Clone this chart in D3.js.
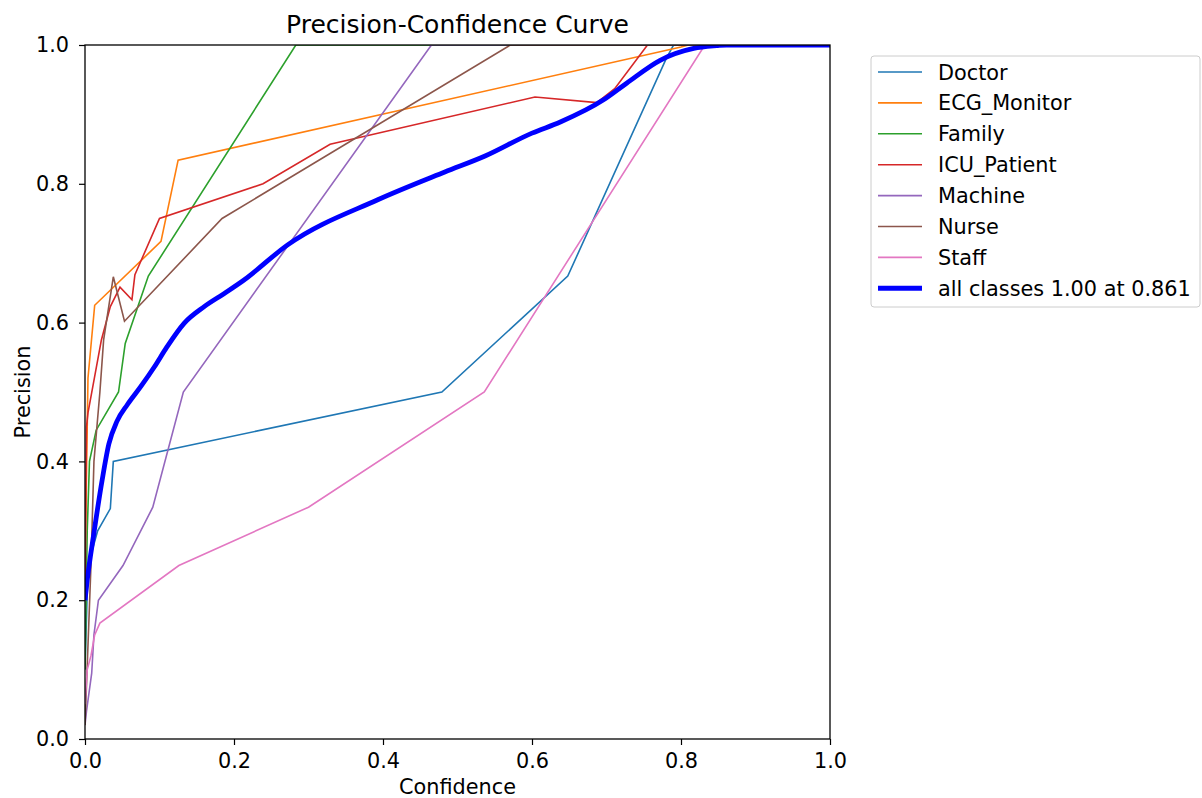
<!DOCTYPE html>
<html>
<head>
<meta charset="utf-8">
<script src="https://cdn.jsdelivr.net/npm/d3@7"></script>
<style>
  body { margin: 0; background: #fff; }
  text { font-family: "DejaVu Sans", sans-serif; fill: #000; }
</style>
</head>
<body>
<svg id="chart" width="1202" height="798"></svg>
<script>
// class names and colours (matplotlib tab10)
var classNames = ["Doctor", "ECG_Monitor", "Family", "ICU_Patient", "Machine", "Nurse", "Staff"];
var classColors = ["#1f77b4", "#ff7f0e", "#2ca02c", "#d62728", "#9467bd", "#8c564b", "#e377c2"];

// [confidence, precision] pairs
var doctorPts = [[0, 0.10], [0.004, 0.25], [0.017, 0.30], [0.034, 0.332], [0.038, 0.40], [0.479, 0.50], [0.648, 0.667], [0.78, 0.98], [0.79, 1.0], [1, 1.0]];
var ecgPts = [[0, 0.25], [0.003, 0.45], [0.004, 0.52], [0.013, 0.625], [0.102, 0.717], [0.125, 0.834], [0.80, 0.997], [0.81, 1.0], [1, 1.0]];
var familyPts = [[0, 0.10], [0.003, 0.30], [0.006, 0.40], [0.015, 0.445], [0.045, 0.50], [0.054, 0.57], [0.085, 0.667], [0.283, 1.0], [1, 1.0]];
var icuPts = [[0, 0.20], [0.002, 0.45], [0.004, 0.47], [0.022, 0.575], [0.034, 0.623], [0.047, 0.651], [0.063, 0.633], [0.067, 0.669], [0.10, 0.75], [0.239, 0.80], [0.329, 0.857], [0.604, 0.925], [0.687, 0.917], [0.711, 0.937], [0.755, 1.0], [1, 1.0]];
var machinePts = [[0, 0.02], [0.002, 0.04], [0.009, 0.095], [0.012, 0.15], [0.018, 0.20], [0.051, 0.25], [0.091, 0.334], [0.132, 0.50], [0.465, 1.0], [1, 1.0]];
var nursePts = [[0, 0.02], [0.008, 0.25], [0.012, 0.40], [0.016, 0.45], [0.020, 0.50], [0.025, 0.575], [0.038, 0.666], [0.053, 0.602], [0.184, 0.75], [0.571, 1.0], [1, 1.0]];
var staffPts = [[0, 0.05], [0.003, 0.10], [0.008, 0.12], [0.013, 0.15], [0.02, 0.167], [0.126, 0.25], [0.30, 0.334], [0.536, 0.50], [0.832, 1.0], [1, 1.0]];
var allPts = [[0, 0.20], [0.003, 0.229], [0.012, 0.297], [0.023, 0.373], [0.032, 0.425], [0.043, 0.458], [0.057, 0.482], [0.075, 0.508], [0.093, 0.536], [0.110, 0.565], [0.133, 0.599], [0.16, 0.623], [0.187, 0.642], [0.213, 0.661], [0.272, 0.712], [0.393, 0.777], [0.483, 0.817], [0.537, 0.84], [0.60, 0.873], [0.638, 0.889], [0.696, 0.921], [0.727, 0.945], [0.772, 0.978], [0.817, 0.995], [0.848, 0.999], [0.861, 1.0], [1, 1.0]];
var allLabel = "all classes 1.00 at 0.861";

var classPts = [doctorPts, ecgPts, familyPts, icuPts, machinePts, nursePts, staffPts];
var tickVals = [0, 0.2, 0.4, 0.6, 0.8, 1.0];

var svg = d3.select("#chart");

// plot area
var plotLeft = 85, plotRight = 830, plotTop = 45, plotBottom = 739;

var xScale = d3.scaleLinear().domain([0, 1]).range([plotLeft, plotRight]);
var yScale = d3.scaleLinear().domain([0, 1]).range([plotBottom, plotTop]);

svg.append("defs").append("clipPath").attr("id", "plotClip")
  .append("rect")
  .attr("x", plotLeft).attr("y", plotTop)
  .attr("width", plotRight - plotLeft).attr("height", plotBottom - plotTop);

var line = d3.line()
  .x(function(d) { return xScale(d[0]); })
  .y(function(d) { return yScale(d[1]); });

var plot = svg.append("g").attr("clip-path", "url(#plotClip)");

classPts.forEach(function(pts, i) {
  plot.append("path")
    .datum(pts)
    .attr("d", line)
    .attr("fill", "none")
    .attr("stroke", classColors[i])
    .attr("stroke-width", 1.6);
});

plot.append("path")
  .datum(allPts)
  .attr("d", line.curve(d3.curveMonotoneX))
  .attr("fill", "none")
  .attr("stroke", "#0000ff")
  .attr("stroke-width", 4.8)
  .attr("stroke-linejoin", "round");

// axes
var fmt = d3.format(".1f");
var xAxis = d3.axisBottom(xScale).tickValues(tickVals).tickFormat(fmt).tickSize(6).tickPadding(8);
var yAxis = d3.axisLeft(yScale).tickValues(tickVals).tickFormat(fmt).tickSize(6).tickPadding(10);

var gx = svg.append("g").attr("transform", "translate(0," + plotBottom + ")").call(xAxis);
var gy = svg.append("g").attr("transform", "translate(" + plotLeft + ",0)").call(yAxis);
[gx, gy].forEach(function(g) {
  g.select(".domain").remove();
  g.selectAll(".tick line").attr("stroke", "#000").attr("stroke-width", 1.2);
  g.selectAll(".tick text").style("font-family", "DejaVu Sans").style("font-size", "20.8px").attr("fill", "#000");
});

// frame
svg.append("rect")
  .attr("x", plotLeft).attr("y", plotTop)
  .attr("width", plotRight - plotLeft).attr("height", plotBottom - plotTop)
  .attr("fill", "none").attr("stroke", "#000").attr("stroke-width", 1.3);

// title and labels
svg.append("text")
  .attr("x", (plotLeft + plotRight) / 2).attr("y", 33)
  .attr("text-anchor", "middle")
  .style("font-size", "25px")
  .text("Precision-Confidence Curve");

svg.append("text")
  .attr("x", (plotLeft + plotRight) / 2).attr("y", 794)
  .attr("text-anchor", "middle")
  .style("font-size", "20.8px")
  .text("Confidence");

svg.append("text")
  .attr("transform", "translate(30," + ((plotTop + plotBottom) / 2) + ")rotate(-90)")
  .attr("text-anchor", "middle")
  .style("font-size", "20.8px")
  .text("Precision");

// legend
var legend = svg.append("g");
legend.append("rect")
  .attr("x", 871).attr("y", 56)
  .attr("width", 329).attr("height", 251)
  .attr("rx", 3)
  .attr("fill", "#fff")
  .attr("stroke", "#ccc")
  .attr("stroke-width", 1);

var legendNames = classNames.concat([allLabel]);
var legendColors = classColors.concat(["#0000ff"]);
legendNames.forEach(function(name, i) {
  var y = 72 + i * 30.9;
  legend.append("line")
    .attr("x1", 878).attr("x2", 922)
    .attr("y1", y).attr("y2", y)
    .attr("stroke", legendColors[i])
    .attr("stroke-width", i === 7 ? 5 : 1.6);
  legend.append("text")
    .attr("x", 938).attr("y", y + 7.5)
    .style("font-size", "20.8px")
    .text(name);
});
</script>
</body>
</html>
